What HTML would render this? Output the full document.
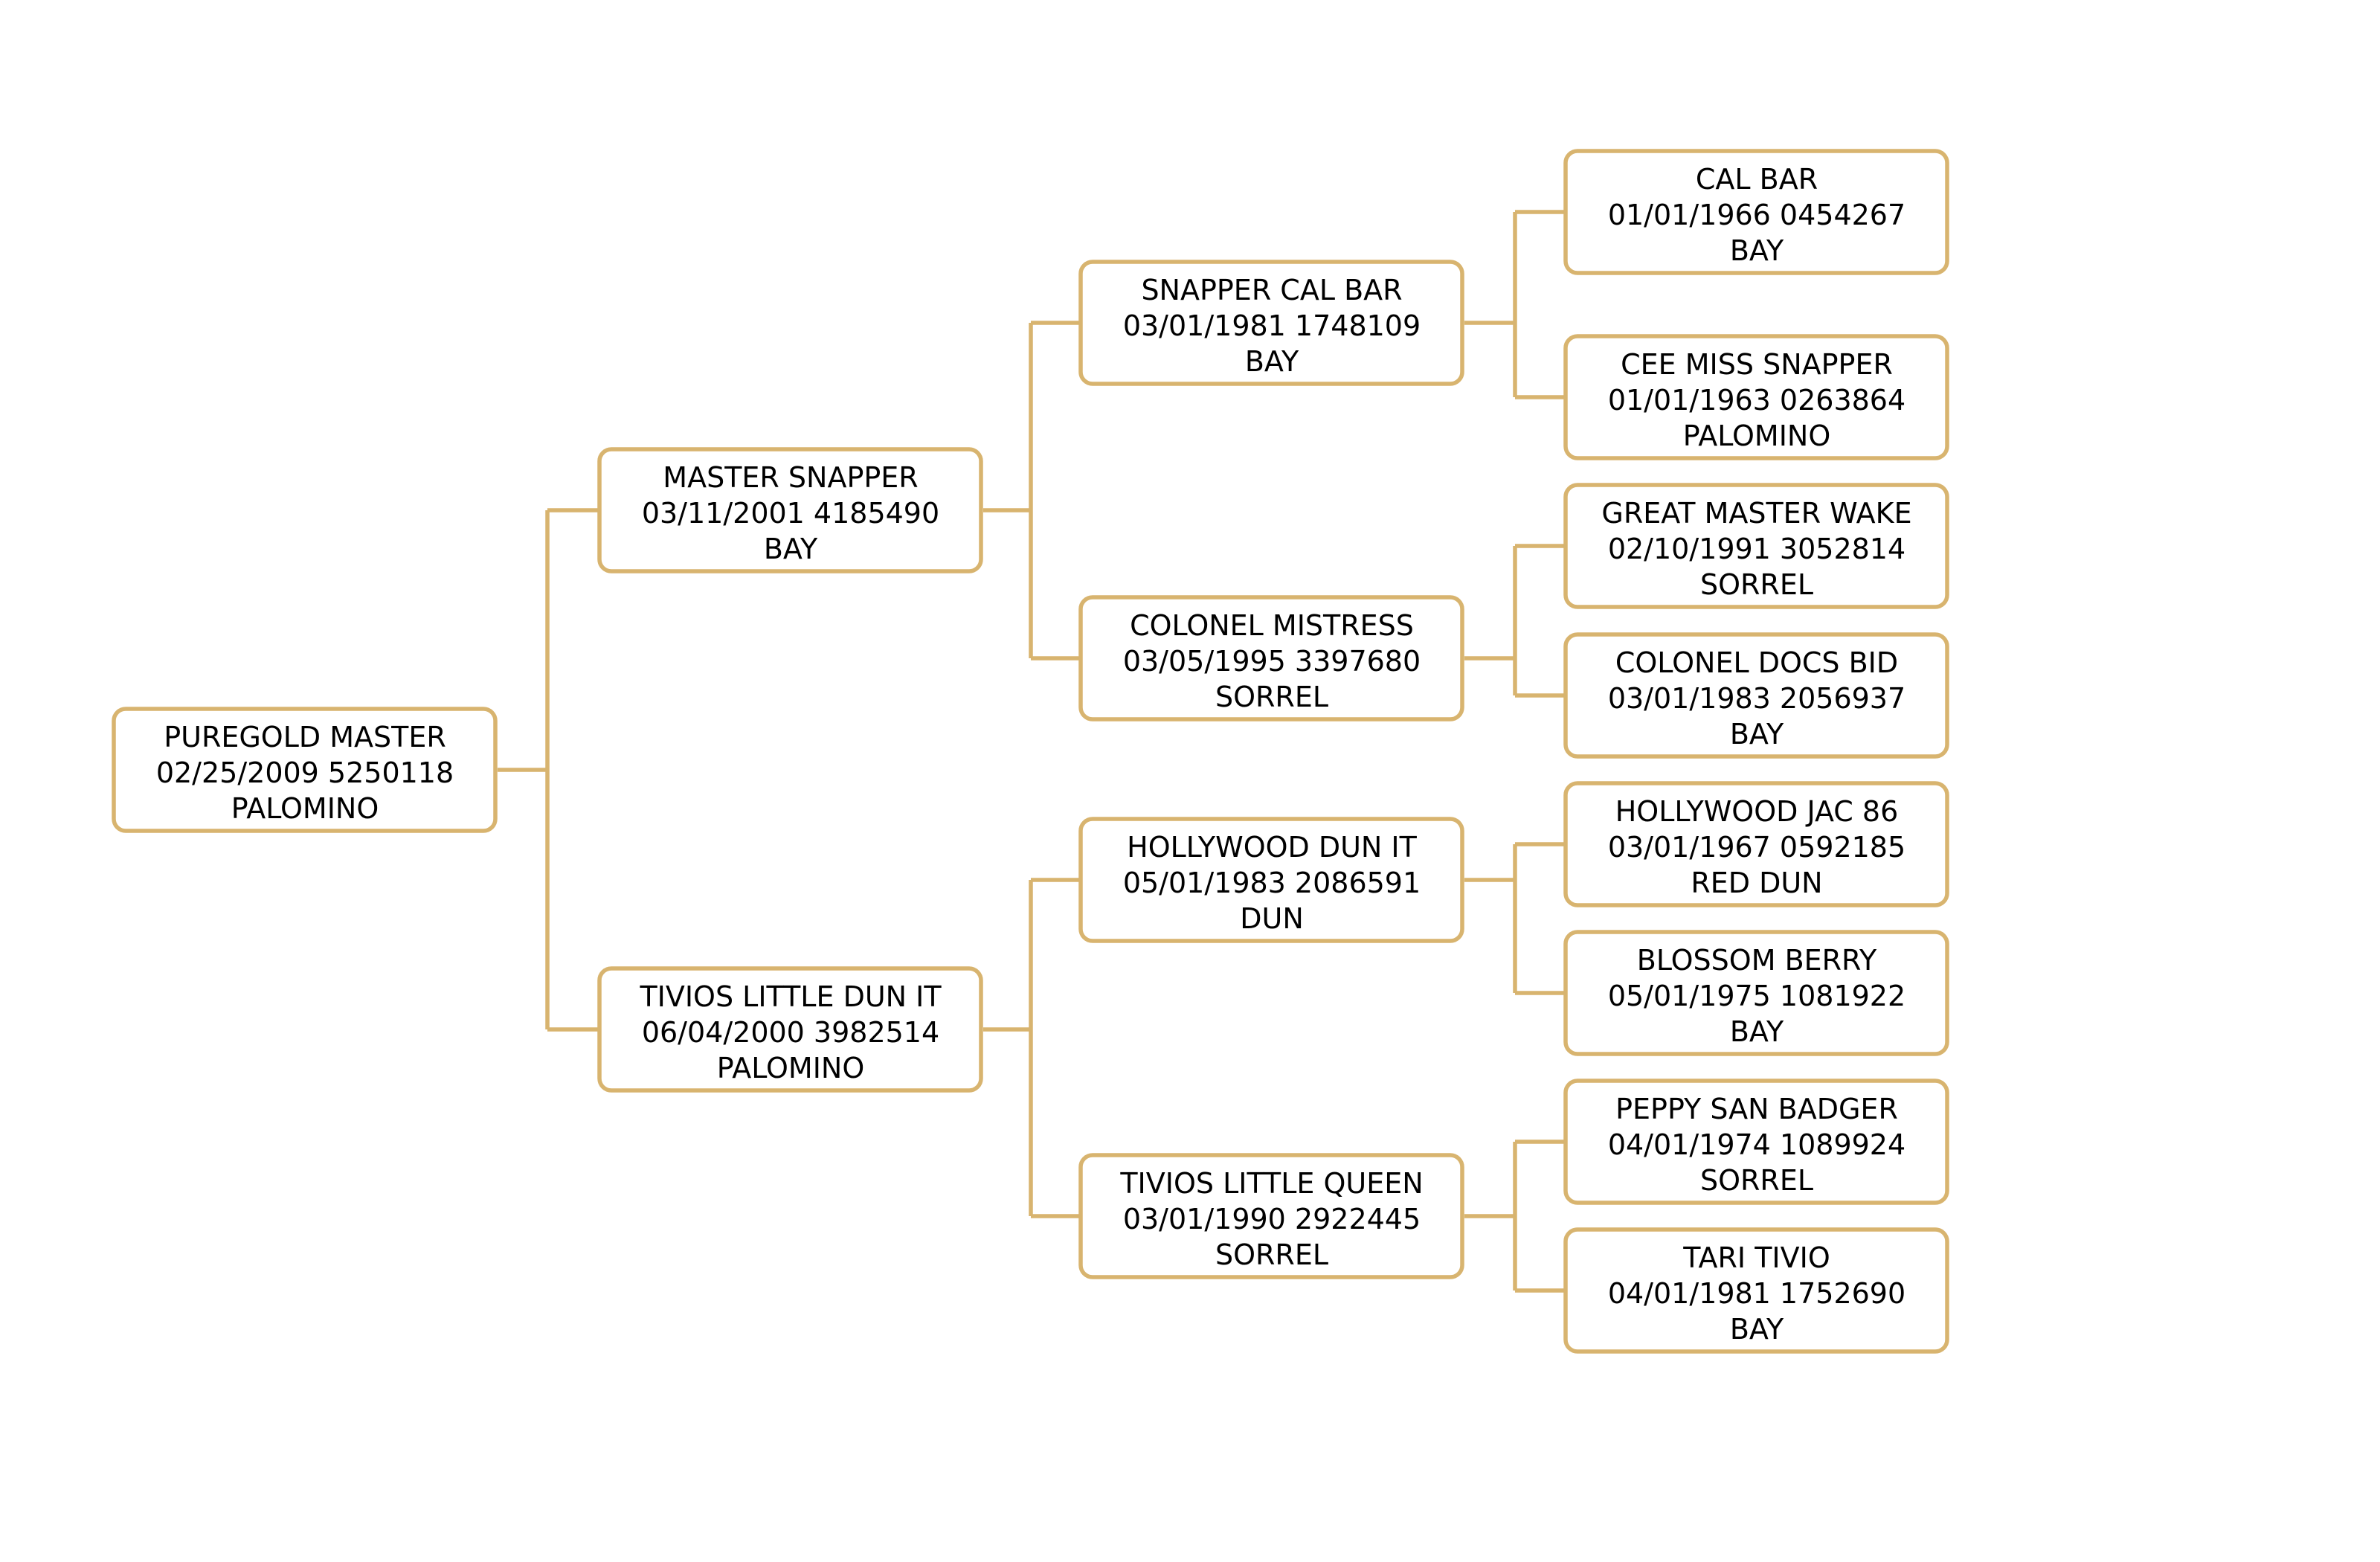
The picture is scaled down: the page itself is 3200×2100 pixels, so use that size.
<!DOCTYPE html>
<html><head><meta charset="utf-8"><style>
html,body{margin:0;padding:0;background:#fff;}
svg{display:block;}
text{font-family:"DejaVu Sans","Liberation Sans",sans-serif;font-size:38px;fill:#000;text-anchor:middle;}
</style></head><body>
<svg width="3200" height="2100" viewBox="0 0 3200 2100" xmlns="http://www.w3.org/2000/svg">
<g fill="none" stroke="#D8B46F" stroke-width="5.5">
<path d="M669 1035 H736 M736 686 V1384 M736 686 H806 M736 1384 H806"/>
<path d="M1322 686 H1386 M1386 434 V885 M1386 434 H1453 M1386 885 H1453"/>
<path d="M1322 1384 H1386 M1386 1183 V1635 M1386 1183 H1453 M1386 1635 H1453"/>
<path d="M1969 434 H2037 M2037 285 V534 M2037 285 H2105 M2037 534 H2105"/>
<path d="M1969 885 H2037 M2037 734 V935 M2037 734 H2105 M2037 935 H2105"/>
<path d="M1969 1183 H2037 M2037 1135 V1335 M2037 1135 H2105 M2037 1335 H2105"/>
<path d="M1969 1635 H2037 M2037 1535 V1735 M2037 1535 H2105 M2037 1735 H2105"/>
</g>
<g fill="#fff" stroke="#D8B46F" stroke-width="5.5">
<rect x="153" y="953" width="513" height="164" rx="16"/>
<rect x="806" y="604" width="513" height="164" rx="16"/>
<rect x="806" y="1302" width="513" height="164" rx="16"/>
<rect x="1453" y="352" width="513" height="164" rx="16"/>
<rect x="1453" y="803" width="513" height="164" rx="16"/>
<rect x="1453" y="1101" width="513" height="164" rx="16"/>
<rect x="1453" y="1553" width="513" height="164" rx="16"/>
<rect x="2105" y="203" width="513" height="164" rx="16"/>
<rect x="2105" y="452" width="513" height="164" rx="16"/>
<rect x="2105" y="652" width="513" height="164" rx="16"/>
<rect x="2105" y="853" width="513" height="164" rx="16"/>
<rect x="2105" y="1053" width="513" height="164" rx="16"/>
<rect x="2105" y="1253" width="513" height="164" rx="16"/>
<rect x="2105" y="1453" width="513" height="164" rx="16"/>
<rect x="2105" y="1653" width="513" height="164" rx="16"/>
</g>
<g>
<text x="410" y="1004">PUREGOLD MASTER</text><text x="410" y="1052">02/25/2009 5250118</text><text x="410" y="1100">PALOMINO</text>
<text x="1063" y="655">MASTER SNAPPER</text><text x="1063" y="703">03/11/2001 4185490</text><text x="1063" y="751">BAY</text>
<text x="1063" y="1353">TIVIOS LITTLE DUN IT</text><text x="1063" y="1401">06/04/2000 3982514</text><text x="1063" y="1449">PALOMINO</text>
<text x="1710" y="403">SNAPPER CAL BAR</text><text x="1710" y="451">03/01/1981 1748109</text><text x="1710" y="499">BAY</text>
<text x="1710" y="854">COLONEL MISTRESS</text><text x="1710" y="902">03/05/1995 3397680</text><text x="1710" y="950">SORREL</text>
<text x="1710" y="1152">HOLLYWOOD DUN IT</text><text x="1710" y="1200">05/01/1983 2086591</text><text x="1710" y="1248">DUN</text>
<text x="1710" y="1604">TIVIOS LITTLE QUEEN</text><text x="1710" y="1652">03/01/1990 2922445</text><text x="1710" y="1700">SORREL</text>
<text x="2362" y="254">CAL BAR</text><text x="2362" y="302">01/01/1966 0454267</text><text x="2362" y="350">BAY</text>
<text x="2362" y="503">CEE MISS SNAPPER</text><text x="2362" y="551">01/01/1963 0263864</text><text x="2362" y="599">PALOMINO</text>
<text x="2362" y="703">GREAT MASTER WAKE</text><text x="2362" y="751">02/10/1991 3052814</text><text x="2362" y="799">SORREL</text>
<text x="2362" y="904">COLONEL DOCS BID</text><text x="2362" y="952">03/01/1983 2056937</text><text x="2362" y="1000">BAY</text>
<text x="2362" y="1104">HOLLYWOOD JAC 86</text><text x="2362" y="1152">03/01/1967 0592185</text><text x="2362" y="1200">RED DUN</text>
<text x="2362" y="1304">BLOSSOM BERRY</text><text x="2362" y="1352">05/01/1975 1081922</text><text x="2362" y="1400">BAY</text>
<text x="2362" y="1504">PEPPY SAN BADGER</text><text x="2362" y="1552">04/01/1974 1089924</text><text x="2362" y="1600">SORREL</text>
<text x="2362" y="1704">TARI TIVIO</text><text x="2362" y="1752">04/01/1981 1752690</text><text x="2362" y="1800">BAY</text>
</g>
</svg>
</body></html>
